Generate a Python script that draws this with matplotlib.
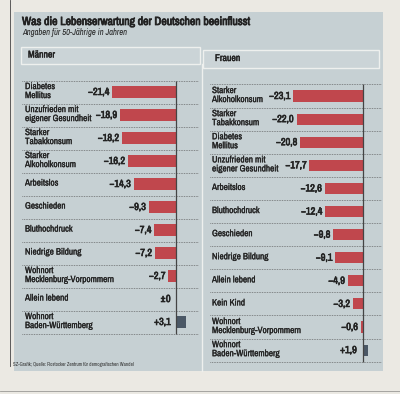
import matplotlib
matplotlib.use('Agg')
import matplotlib.pyplot as plt
from matplotlib.patches import Rectangle
from matplotlib.lines import Line2D
import matplotlib.patheffects as pe

# ---- data ----
maenner_labels = ["Diabetes\nMellitus", "Unzufrieden mit\neigener Gesundheit", "Starker\nTabakkonsum",
                  "Starker\nAlkoholkonsum", "Arbeitslos", "Geschieden", "Bluthochdruck",
                  "Niedrige Bildung", "Wohnort\nMecklenburg-Vorpommern", "Allein lebend",
                  "Wohnort\nBaden-Württemberg"]
maenner_values = [-21.4, -18.9, -18.2, -16.2, -14.3, -9.3, -7.4, -7.2, -2.7, 0.0, 3.1]

frauen_labels = ["Starker\nAlkoholkonsum", "Starker\nTabakkonsum", "Diabetes\nMellitus",
                 "Unzufrieden mit\neigener Gesundheit", "Arbeitslos", "Bluthochdruck", "Geschieden",
                 "Niedrige Bildung", "Allein lebend", "Kein Kind", "Wohnort\nMecklenburg-Vorpommern",
                 "Wohnort\nBaden-Württemberg"]
frauen_values = [-23.1, -22.0, -20.8, -17.7, -12.6, -12.4, -9.8, -9.1, -4.9, -3.2, -0.6, 1.9]

title = "Was die Lebenserwartung der Deutschen beeinflusst"
subtitle = "Angaben für 50-Jährige in Jahren"
source = "SZ-Grafik; Quelle: Rostocker Zentrum für demografischen Wandel"

# ---- style ----
W, H = 400, 394
FONT = ['Archivo Narrow', 'Liberation Sans', 'DejaVu Sans']
plt.rcParams['font.family'] = FONT
PAPER = '#ebe9e3'
BOX = '#c6d0d3'
RED = '#c0474d'
BLUE = '#4b5866'
TXT = '#222222'


def heavy(w):
    return [pe.withStroke(linewidth=w, foreground=TXT)]


fig = plt.figure(figsize=(W / 100, H / 100), dpi=100)
fig.patch.set_facecolor(PAPER)


def fx(px):
    return px / W


def fy(py):
    return 1 - py / H


def rect(x0, y0, x1, y1, **kw):
    fig.patches.append(Rectangle((fx(x0), fy(y1)), fx(x1) - fx(x0), fy(y0) - fy(y1),
                                 transform=fig.transFigure, **kw))


rect(14, 12, 383, 371, facecolor=BOX, edgecolor='none', zorder=-3)
rect(21, 47, 200, 64, facecolor='#cbd4d7', edgecolor='#eef0ee', lw=1.0, zorder=-2)
rect(203, 50, 379, 68, facecolor='#cbd4d7', edgecolor='#eef0ee', lw=1.0, zorder=-2)
fig.lines.append(Line2D([fx(201.5), fx(201.5)], [fy(64), fy(371)], transform=fig.transFigure,
                        color='#eef0ee', lw=1.0, zorder=-2))
fig.lines.append(Line2D([fx(10), fx(10)], [fy(0), fy(366)], transform=fig.transFigure,
                        color='#444444', lw=0.6))
fig.lines.append(Line2D([fx(0), fx(400)], [fy(391), fy(391)], transform=fig.transFigure,
                        color='#9a9a96', lw=0.6))

fig.text(fx(22), fy(22), title, fontsize=8.5, fontweight='bold', color=TXT, va='center', ha='left',
         path_effects=heavy(0.55))
fig.text(fx(22), fy(32.5), subtitle, fontsize=6.2, style='italic', color=TXT, va='center', ha='left')
fig.text(fx(28), fy(55), "Männer", fontsize=7.0, color=TXT, va='center', ha='left',
         path_effects=heavy(0.3))
fig.text(fx(215), fy(58.5), "Frauen", fontsize=7.0, color=TXT, va='center', ha='left',
         path_effects=heavy(0.3))
fig.text(fx(13), fy(364.5), source, fontsize=3.6, color='#333333', va='center', ha='left')


def fmt(v):
    if v == 0:
        return "±0"
    s = f"{abs(v):.1f}".replace('.', ',')
    return ("\u2212" if v < 0 else "+") + s


def panel(labels, values, x0, x1, y0, y1, zero_px, scale, row0, spacing, label_px, lx0, lx1):
    ax = fig.add_axes([fx(x0), fy(y1), fx(x1) - fx(x0), fy(y0) - fy(y1)])
    ax.set_zorder(2)
    ax.set_xlim((x0 - zero_px) / scale, (x1 - zero_px) / scale)
    ax.set_ylim((y1 - row0) / spacing, (y0 - row0) / spacing)
    ax.axis('off')

    def dx(px):
        return (px - zero_px) / scale

    n = len(values)
    rows = list(range(n))
    colors = [RED if v < 0 else BLUE for v in values]
    ax.barh(rows, values, height=0.48, color=colors, zorder=2)
    for k in range(n + 1):
        ax.hlines(k - 0.5, dx(lx0), dx(lx1), linestyles=(0, (0.8, 1.2)), color='#555555', lw=0.6, zorder=1)
    ax.vlines(0, -0.5, n - 0.5, color='#444444', lw=0.9, zorder=3)
    for i, (lab, v) in enumerate(zip(labels, values)):
        ax.text(dx(label_px), i - 0.04, lab, ha='left', va='center', fontsize=6.6,
                linespacing=1.0, color=TXT, path_effects=heavy(0.15))
        xe = v - 1.0 if v < 0 else -2.0
        ax.text(xe, i, fmt(v), ha='right', va='center', fontsize=7.4, color=TXT,
                path_effects=heavy(0.45))
    return ax


panel(maenner_labels, maenner_values, 20, 200, 64, 370, 176.5, 3.0, 92, 23.0, 25, 22, 198)
panel(frauen_labels, frauen_values, 203, 382, 68, 370, 362.5, 3.0, 96, 23.1, 212, 210, 381)

fig.savefig('out.png', dpi=100, facecolor=fig.get_facecolor())
